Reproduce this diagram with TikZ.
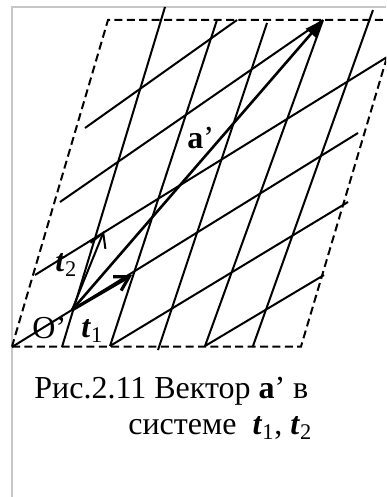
\documentclass[tikz,border=0pt]{standalone}
\usepackage{fontspec}
\setmainfont{Liberation Serif}
\usetikzlibrary{arrows.meta}

\begin{document}
\begin{tikzpicture}[x=0.5pt,y=-0.5pt,
  line/.style={draw=black,line width=1pt},
  border/.style={draw=black,line width=1pt,dash pattern=on 4pt off 2.2pt},
  frame/.style={draw=black!22,line width=1pt},
  vec/.style={draw=black,line width=1.3pt,-{Triangle[length=9pt,width=7pt]}},
  unit/.style={draw=black,line width=1pt,-{Straight Barb[length=7pt,width=8pt]}},
  lbl/.style={inner sep=0pt,anchor=base west,font=\fontsize{16}{19}\selectfont}
]
\useasboundingbox (0,0) rectangle (386,497);
\clip (0,0) rectangle (386,497);
\draw[frame] (12,497) -- (12,7) -- (386,7);
\draw[border] (12,346.5) -- (301,346.5) -- (398,20) -- (108,20) -- cycle;
\draw[line] (62,347) -- (165,7);
\draw[line] (110,346) -- (217,20);
\draw[line] (158,350) -- (267,23);
\draw[line] (205,346) -- (323,20);
\draw[line] (253,346) -- (373,10);
\draw[line] (85,128) -- (237,20);
\draw[line] (60,202) -- (323,20);
\draw[line] (35,275) -- (392,54);
\draw[line] (12,347) -- (358,133);
\draw[line] (110,346) -- (348,202);
\draw[line] (205,346) -- (324,275);
\coordinate (O) at (72,310);
\coordinate (T1) at (132,275);
\coordinate (T2) at (104,231);
\coordinate (A) at (323,20);
\draw[vec] (O) -- (A);
\draw[unit,line width=1.6pt] (O) -- (T1);
\draw[unit] (O) -- (T2);
\node[lbl] (la) at (187,149) {\textbf{a}’};
\node[lbl] (lt2) at (55,271) {\textbf{\textit{t}}\textsubscript{2}};
\node[lbl] (lt1) at (81,337) {\textbf{\textit{t}}\textsubscript{1}};
\node[lbl] (lo) at (32,338) {O’};
\node[lbl] (cap1) at (34,398) {Рис.2.11 Вектор \textbf{a}’ в};
\node[lbl] (cap2) at (128,434) {системе\enspace\textbf{\textit{t}}\textsubscript{1}, \textbf{\textit{t}}\textsubscript{2}};
\end{tikzpicture}
\end{document}
